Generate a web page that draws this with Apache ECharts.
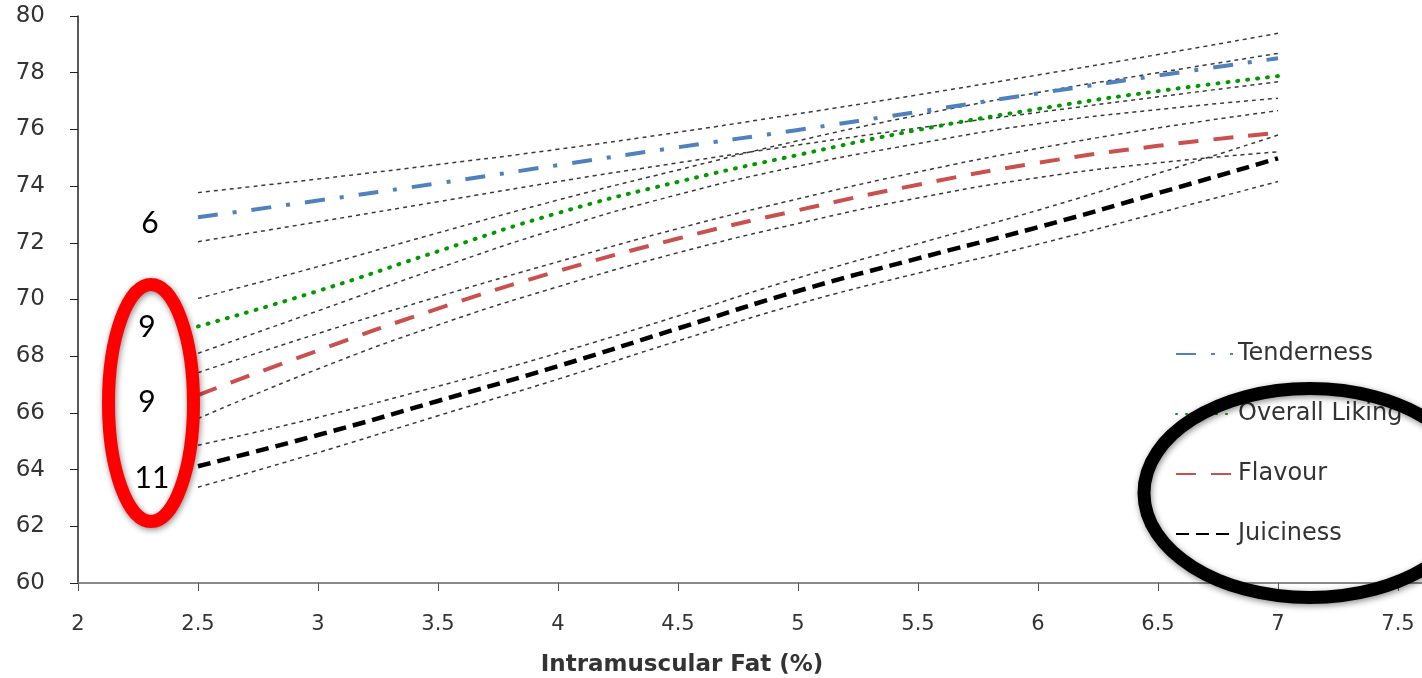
<!DOCTYPE html>
<html>
<head>
<meta charset="utf-8">
<script src="https://cdn.jsdelivr.net/npm/echarts@6/dist/echarts.min.js"></script>
<style>
html,body{margin:0;padding:0;background:#fff;}
#chart{width:1422px;height:678px;}
</style>
</head>
<body>
<div id="chart"></div>
<script>
// ---- data ----
var fatPct = [2.5, 3, 3.5, 4, 4.5, 5, 5.5, 6, 6.5, 7];
var xTicks = ['2','2.5','3','3.5','4','4.5','5','5.5','6','6.5','7','7.5'];

var tenderness      = [72.90, 73.49, 74.10, 74.74, 75.37, 75.98, 76.62, 77.27, 77.90, 78.51];
var tendernessUpper = [73.77, 74.25, 74.76, 75.30, 75.90, 76.55, 77.22, 77.92, 78.64, 79.39];
var tendernessLower = [72.04, 72.74, 73.45, 74.16, 74.82, 75.45, 76.05, 76.60, 77.15, 77.68];

var overall      = [69.05, 70.30, 71.70, 73.05, 74.15, 75.10, 75.98, 76.72, 77.35, 77.88];
var overallUpper = [70.04, 71.16, 72.35, 73.51, 74.57, 75.60, 76.50, 77.30, 78.00, 78.68];
var overallLower = [68.10, 69.60, 71.10, 72.50, 73.70, 74.70, 75.50, 76.20, 76.70, 77.10];

var flavour      = [66.63, 68.20, 69.68, 71.00, 72.15, 73.15, 74.05, 74.82, 75.42, 75.88];
var flavourUpper = [67.42, 68.80, 70.10, 71.33, 72.50, 73.55, 74.50, 75.33, 76.05, 76.66];
var flavourLower = [65.80, 67.55, 69.10, 70.45, 71.65, 72.68, 73.58, 74.30, 74.82, 75.21];

var juiciness      = [64.12, 65.22, 66.42, 67.65, 68.98, 70.30, 71.45, 72.55, 73.75, 74.98];
var juicinessUpper = [64.86, 65.84, 66.94, 68.11, 69.42, 70.76, 71.97, 73.15, 74.45, 75.80];
var juicinessLower = [63.38, 64.60, 65.90, 67.19, 68.54, 69.84, 70.93, 71.95, 73.05, 74.16];

var seriesNames = ['Tenderness', 'Overall Liking', 'Flavour', 'Juiciness'];
var sampleCounts = ['6', '9', '9', '11'];

// ---- build chart ----
function pairs(ys){ return fatPct.map(function(x,i){ return [x, ys[i]]; }); }
var FONT = '"DejaVu Sans", sans-serif';
var NUMFONT = 'Lato, "Open Sans", sans-serif';

function ciSeries(ys){
  return {
    type:'line', data:pairs(ys), symbol:'none', smooth:true, silent:true,
    lineStyle:{color:'#3a3a3a', width:1.5, type:[4,4]}, z:1
  };
}
function mainSeries(name, ys, color, dash, width, cap){
  return {
    name:name, type:'line', data:pairs(ys), symbol:'none', smooth:true,
    lineStyle:{color:color, width:width, type:dash, cap:cap||'butt'},
    itemStyle:{color:color}, z:3
  };
}

var chart = echarts.init(document.getElementById('chart'));
chart.setOption({
  animation:false,
  backgroundColor:'#fff',
  grid:{left:78, right:24, top:16, bottom:95, outerBoundsMode:'none', containLabel:false},
  legend:{
    orient:'vertical', left:1175, top:341, padding:0, itemGap:34,
    itemWidth:57, itemHeight:26,
    data:seriesNames,
    itemStyle:{opacity:0},
    textStyle:{fontFamily:FONT, fontSize:24, color:'#333', lineHeight:26}
  },
  xAxis:{
    type:'value', min:2, max:7.5, interval:0.5,
    name:'Intramuscular Fat (%)', nameLocation:'middle', nameGap:71,
    nameTextStyle:{fontFamily:FONT, fontSize:23, fontWeight:'bold', color:'#333', padding:[0,112,0,0]},
    axisLine:{lineStyle:{color:'#8a8a8a', width:2}},
    axisTick:{length:8, lineStyle:{color:'#555', width:1}},
    axisLabel:{fontFamily:FONT, fontSize:21, color:'#333', margin:31,
      formatter:function(v){ var s = String(+v.toFixed(1)); return xTicks.indexOf(s) >= 0 ? s : ''; }},
    splitLine:{show:false}
  },
  yAxis:{
    type:'value', min:60, max:80, interval:2,
    axisLine:{show:true, lineStyle:{color:'#222', width:1.5}},
    axisTick:{show:true, length:8, lineStyle:{color:'#222'}},
    axisLabel:{fontFamily:FONT, fontSize:23, color:'#333', margin:33},
    splitLine:{show:false}
  },
  series:[
    ciSeries(tendernessUpper), ciSeries(tendernessLower),
    ciSeries(overallUpper), ciSeries(overallLower),
    ciSeries(flavourUpper), ciSeries(flavourLower),
    ciSeries(juicinessUpper), ciSeries(juicinessLower),
    mainSeries(seriesNames[0], tenderness, '#4F81BD', [20,15,4,15], 4),
    mainSeries(seriesNames[1], overall, '#009A00', [1,9], 4, 'round'),
    mainSeries(seriesNames[2], flavour, '#C9504D', [20,15], 4),
    mainSeries(seriesNames[3], juiciness, '#000000', [13,7], 4.5)
  ],
  graphic:[
    {type:'line', shape:{x1:1398, y1:583, x2:1422, y2:583}, style:{stroke:'#8a8a8a', lineWidth:2}},
    {type:'text', x:150, y:223, style:{text:sampleCounts[0], font:'30px '+NUMFONT, fill:'#000', align:'center', verticalAlign:'middle'}},
    {type:'text', x:147, y:327, style:{text:sampleCounts[1], font:'30px '+NUMFONT, fill:'#000', align:'center', verticalAlign:'middle'}},
    {type:'text', x:147, y:402, style:{text:sampleCounts[2], font:'30px '+NUMFONT, fill:'#000', align:'center', verticalAlign:'middle'}},
    {type:'text', x:152, y:478, style:{text:sampleCounts[3], font:'30px '+NUMFONT, fill:'#000', align:'center', verticalAlign:'middle'}},
    {type:'ellipse', shape:{cx:151, cy:403, rx:42.5, ry:118.5},
      style:{fill:'none', stroke:'#FF0000', lineWidth:13, shadowBlur:6, shadowColor:'rgba(0,0,0,0.45)', shadowOffsetX:1, shadowOffsetY:2}, z:10},
    {type:'ellipse', shape:{cx:1310, cy:493, rx:166, ry:104.5},
      style:{fill:'none', stroke:'#000000', lineWidth:13, shadowBlur:6, shadowColor:'rgba(0,0,0,0.45)', shadowOffsetX:1, shadowOffsetY:2}, z:10}
  ]
});
</script>
</body>
</html>
